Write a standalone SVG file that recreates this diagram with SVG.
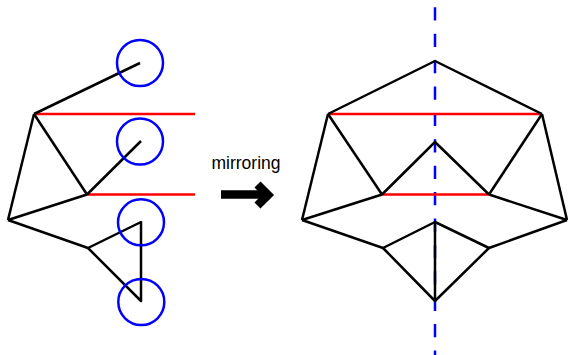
<svg xmlns="http://www.w3.org/2000/svg" width="568" height="355" viewBox="0 0 568 355">
<style>
.e{stroke:#000;stroke-width:2.5;fill:none;stroke-linejoin:round}
.r{stroke:#ff0000;stroke-width:2.5;fill:none}
.c{stroke:#0000ff;stroke-width:2.5;fill:none}
.ax{stroke:#0000ff;stroke-width:2.5;fill:none;stroke-dasharray:13.2 13.2}
.t{font-family:"Liberation Sans",Arial,sans-serif;font-size:17.5px;fill:#000}
</style>
<rect width="568" height="355" fill="#fff"/>
<g id="connectors">
  <g id="left-edges">
    <line class="r" x1="34" y1="114" x2="195" y2="114"/>
    <line class="r" x1="87" y1="194.5" x2="195" y2="194.5"/>
    <line class="e" x1="34" y1="114" x2="140" y2="63"/>
    <line class="e" x1="34" y1="114" x2="8" y2="220"/>
    <line class="e" x1="34" y1="114" x2="87" y2="194.5"/>
    <line class="e" x1="87" y1="194.5" x2="141" y2="141"/>
    <line class="e" x1="8" y1="220" x2="87" y2="194.5"/>
    <line class="e" x1="8" y1="220" x2="88" y2="248"/>
    <polygon class="e" points="88,248 141,222 141,301"/>
  </g>
  <g id="right-edges">
    <line class="ax" x1="435" y1="7.3" x2="435" y2="355"/>
    <line class="r" x1="328" y1="114" x2="542" y2="114"/>
    <line class="r" x1="382" y1="194.5" x2="489" y2="194.5"/>
    <polyline class="e" points="328,114 435,61 542,114"/>
    <line class="e" x1="328" y1="114" x2="302" y2="220"/>
    <line class="e" x1="542" y1="114" x2="567" y2="220"/>
    <line class="e" x1="328" y1="114" x2="382" y2="194.5"/>
    <line class="e" x1="542" y1="114" x2="489" y2="194.5"/>
    <polyline class="e" points="382,194.5 435,142 489,194.5"/>
    <line class="e" x1="302" y1="220" x2="382" y2="194.5"/>
    <line class="e" x1="567" y1="220" x2="489" y2="194.5"/>
    <line class="e" x1="302" y1="220" x2="383" y2="248"/>
    <line class="e" x1="567" y1="220" x2="489" y2="248"/>
    <polygon class="e" points="383,248 435,222 489,248 435,301"/>
    <line class="e" x1="435" y1="222" x2="435" y2="301"/>
  </g>
</g>
<g id="circle1"><circle class="c" cx="140" cy="63" r="23"/></g>
<g id="circle2"><circle class="c" cx="140" cy="141.5" r="23"/></g>
<g id="circle3"><circle class="c" cx="141" cy="222.3" r="23"/></g>
<g id="circle4"><circle class="c" cx="141.3" cy="302" r="23"/></g>
<g id="mirror-label">
  <text class="t" x="211.5" y="168.5">mirroring</text>
  <line x1="221" y1="194.5" x2="265" y2="194.5" stroke="#000" stroke-width="8.5"/>
  <polyline points="257.5,184.5 268,195 257.5,205.5" fill="none" stroke="#000" stroke-width="8.5" stroke-linejoin="miter"/>
</g>
</svg>
